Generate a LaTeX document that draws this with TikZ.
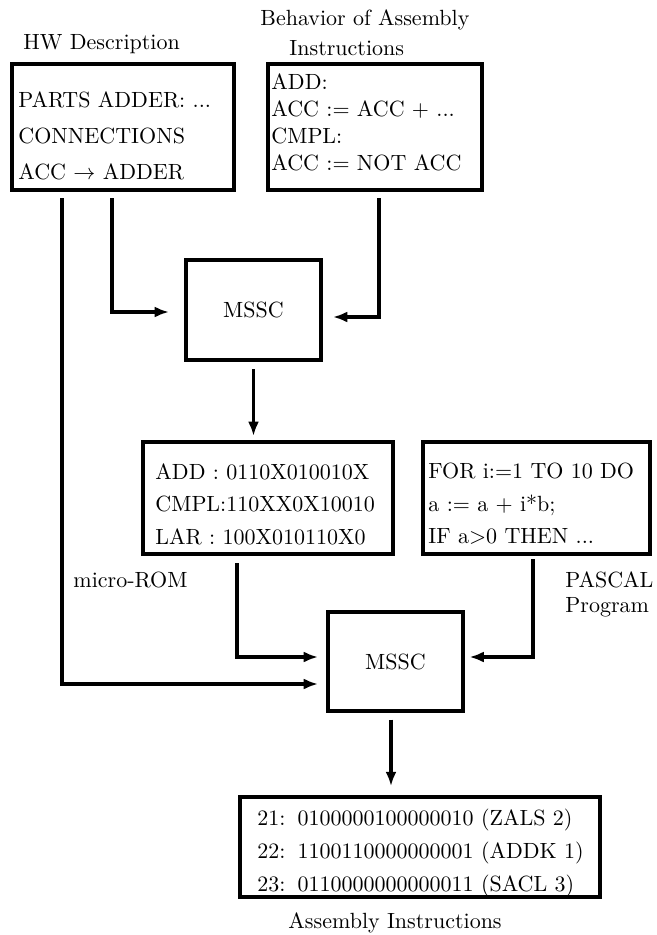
\documentclass[tikz,border=0pt]{standalone}
\usetikzlibrary{arrows.meta,calc}
\begin{document}
\begin{tikzpicture}[x=0.4545pt,y=-0.4545pt,
  box/.style={draw, line width=1.9pt, inner sep=0pt},
  txt/.style={anchor=west, align=left, inner sep=0pt},
  lbl/.style={anchor=west, inner sep=0pt},
  arr/.style={line width=1.7pt, -{Latex[length=6.5pt,width=5pt]}}]
\useasboundingbox (0,0) rectangle (657,935);

% boxes
\node[box, minimum width=222*0.4545pt, minimum height=126*0.4545pt] (hw) at (123,127) {};
\node[box, minimum width=214*0.4545pt, minimum height=126*0.4545pt] (beh) at (375,127) {};
\node[box, minimum width=135*0.4545pt, minimum height=100*0.4545pt] (m1) at (253.5,310) {MSSC};
\node[box, minimum width=250*0.4545pt, minimum height=112*0.4545pt] (rom) at (268,498) {};
\node[box, minimum width=227*0.4545pt, minimum height=112*0.4545pt] (pas) at (536.5,498) {};
\node[box, minimum width=135*0.4545pt, minimum height=99*0.4545pt] (m2) at (395.5,661.5) {MSSC};
\node[box, minimum width=360*0.4545pt, minimum height=100*0.4545pt] (asm) at (420,847) {};

% box texts
\node[txt, font=\fontsize{10}{16.4}\selectfont] (hwt) at (18,136)
  {PARTS ADDER: ...\\CONNECTIONS\\ACC $\rightarrow$ ADDER};
\node[txt, font=\fontsize{10}{12.3}\selectfont] (beht) at (271,122.5)
  {ADD:\\ACC := ACC + ...\\CMPL:\\ACC := NOT ACC};
\node[txt, font=\fontsize{10}{14.8}\selectfont] (romt) at (155,504)
  {ADD : 0110X010010X\\CMPL:110XX0X10010\\LAR : 100X010110X0};
\node[txt, font=\fontsize{10}{14.8}\selectfont] (past) at (428,504)
  {FOR i:=1 TO 10 DO\\a := a + i*b;\\IF a>0 THEN ...};
\node[txt, font=\fontsize{10}{14.8}\selectfont] (asmt) at (257,853)
  {21:\hspace{5.5pt}0100000100000010 (ZALS 2)\\22:\hspace{5.5pt}1100110000000001 (ADDK 1)\\23:\hspace{5.5pt}0110000000000011 (SACL 3)};

% labels
\node[lbl] (lhw) at (23,44) {HW Description};
\node[lbl] (lbeh1) at (260,20) {Behavior of Assembly};
\node[lbl] (lbeh2) at (289,48) {Instructions};
\node[lbl] (lrom) at (73,580) {micro-ROM};
\node[lbl] (lpas1) at (565,580) {PASCAL};
\node[lbl] (lpas2) at (565,607) {Program};
\node[lbl] (lasm) at (288,923) {Assembly Instructions};

% connectors
\draw[arr, shorten <=2.7pt, shorten >=6.8pt] (hw.south -| 112,0) |- (m1.west |- 0,312);
\draw[arr, shorten <=2.7pt, shorten >=4.5pt] (beh.south -| 379,0) |- (m1.east |- 0,317);
\draw[arr, shorten <=3.2pt, shorten >=1.8pt] (m1.south) -- (rom.north -| m1.south);
\draw[arr, shorten <=2.7pt, shorten >=3.6pt] (hw.south -| 62,0) |- (m2.west |- 0,684);
\draw[arr, shorten <=3.2pt, shorten >=3.6pt] (rom.south -| 237,0) |- (m2.west |- 0,657);
\draw[arr, shorten <=1.5pt, shorten >=2pt] (pas.south -| 533,0) |- (m2.east |- 0,657);
\draw[arr, shorten <=3pt, shorten >=4pt] (m2.south -| 391,0) -- (asm.north -| 391,0);
\end{tikzpicture}
\end{document}
